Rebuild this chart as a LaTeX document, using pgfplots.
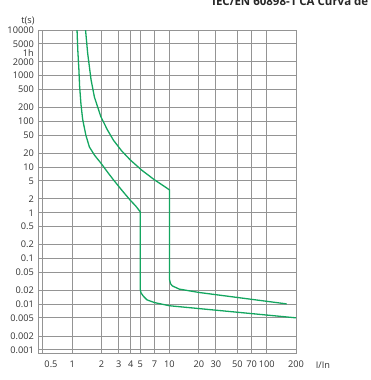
\documentclass[border=0pt]{standalone}
\usepackage{fontspec}
\setmainfont{Open Sans}
\usepackage{pgfplots}
\pgfplotsset{compat=1.18}
\definecolor{curve}{RGB}{20,166,96}
\definecolor{gridc}{RGB}{148,148,148}
\definecolor{txt}{RGB}{50,50,50}
\begin{document}
\begin{tikzpicture}
\useasboundingbox (0,0) rectangle (370pt,380pt);
\clip (0,0) rectangle (370pt,380pt);
\begin{axis}[
  at={(39pt,27pt)}, anchor=south west,
  width=257pt, height=323pt, scale only axis,
  xmode=log, ymode=log,
  xmin=0.455, xmax=200, ymin=0.00085, ymax=10000,
  xtick={1,2,3,4,5,7,10,20,30,50,70,100,200},
  xticklabels={1,2,3,4,5,7,10,20,30,50,70,100,200},
  ytick={0.001,0.002,0.005,0.01,0.02,0.05,0.1,0.2,0.5,1,2,5,10,20,50,100,200,500,1000,2000,5000,10000},
  yticklabels={0.001,0.002,0.005,0.01,0.02,0.05,0.1,0.2,0.5,1,2,5,10,20,50,100,200,500,1000,2000,5000,10000},
  extra x ticks={0.5}, extra x tick labels={0.5},
  extra x tick style={grid=major, xticklabel style={xshift=8pt}},
  extra y ticks={3100}, extra y tick labels={1h},
  extra y tick style={grid=none},
  grid=major,
  major grid style={gridc, line width=1pt},
  axis line style={gridc, line width=1pt},
  major tick length=0pt,
  tick label style={font=\fontsize{9.2}{10}\selectfont, text=txt},
  xticklabel style={yshift=-4pt},
  yticklabel style={inner sep=0.5pt, xshift=-4.5pt, text height=6.6pt, text depth=0pt},
]
\addplot[curve, line width=1.3pt] coordinates {
 (1.12,10000) (1.14,3630) (1.17,1380) (1.19,589) (1.23,233) (1.28,110)
 (1.38,50) (1.50,27.5) (1.70,18) (1.97,12.2) (2.3,7.8) (2.65,5.26)
 (3.2,3.2) (3.93,1.9) (4.5,1.4) (5,1.05)
 (5,0.021) (5.1,0.0175) (5.37,0.015) (5.86,0.0124) (7,0.0108) (10,0.0092) (200,0.005)
};
\addplot[curve, line width=1.3pt] coordinates {
 (1.37,10000) (1.44,3120) (1.56,820) (1.69,340) (1.97,126) (2.3,65) (2.65,38.8)
 (3.2,23) (3.95,14.3) (5.2,8.5) (7,5.26) (8.5,4) (10,3.16)
 (10,0.0345) (10.25,0.028) (10.7,0.025) (12.6,0.0213) (20,0.018) (160,0.0101)
};
\end{axis}
\node[text=txt, font=\fontsize{9.2}{10}\selectfont] at (28pt,359pt) {t(s)};
\node[text=txt, font=\fontsize{9.2}{10}\selectfont] at (323pt,15pt) {I/In};
\node[anchor=base west, inner sep=0pt, text=black!85, font=\fontsize{11.5}{12}\selectfont\bfseries] at (212pt,374pt) {IEC/EN 60898-1 CA Curva de tipo C};
\end{tikzpicture}
\end{document}
